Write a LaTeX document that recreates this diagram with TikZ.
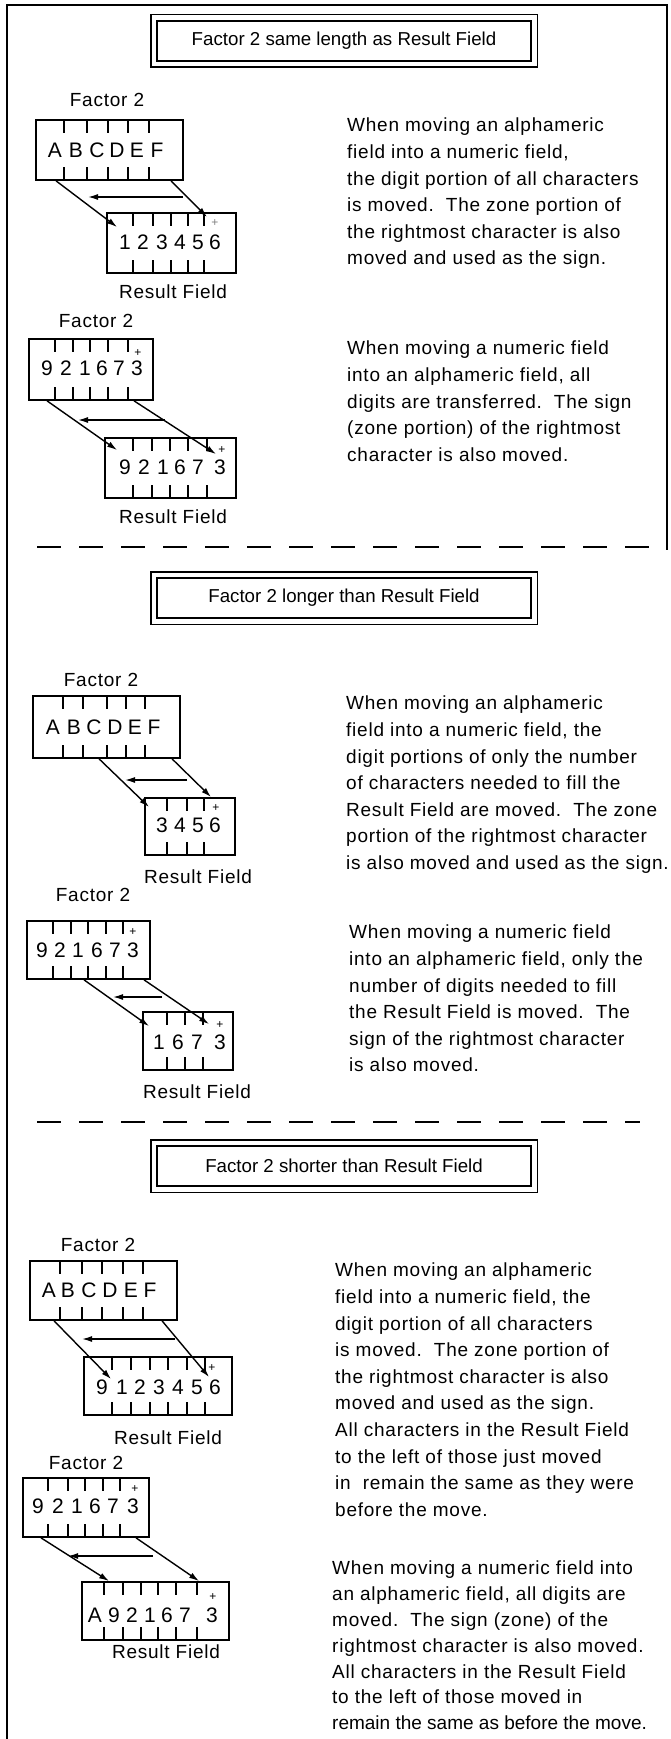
\documentclass[tikz,border=0pt]{standalone}
\usepackage{fontspec}
\setmainfont{Liberation Sans}[LetterSpace=4]
\newfontfamily\titlefont{Liberation Sans}
\usetikzlibrary{arrows.meta}

\begin{document}
\begin{tikzpicture}[x=1pt,y=-1pt,
  fieldbox/.style={draw,line width=1.8pt,inner sep=0pt},
  cell/.style={inner sep=0pt,font=\fontsize{21}{21}\selectfont},
  sgn/.style={inner sep=0pt,font=\fontsize{12}{12}\selectfont},
  lbl/.style={inner sep=0pt,font=\fontsize{19}{19}\selectfont},
  note/.style={inner sep=0pt,anchor=north west,align=left,font=\fontsize{19}{26.6}\selectfont},
  titlebox/.style={draw,line width=2.2pt,minimum width=374pt,minimum height=40pt,inner sep=0pt,
    font=\titlefont\fontsize{18.7}{18.7}\selectfont},
  rim/.style={line width=1.2pt},
  tick/.style={line width=1.4pt},
  sep/.style={line width=1.3pt,dash pattern=on 24pt off 18pt},
  move/.style={line width=1.4pt,-{Latex[length=10pt,width=6pt]}}]
\useasboundingbox (0,0) rectangle (671,1739);
\draw[line width=1.5pt] (7,1739) -- (7,5) -- (667,5) -- (667,550);

% Factor 2 same length as Result Field
\node[titlebox] (t1) at (344,41) {Factor 2 same length as Result Field};
\draw[rim] ([shift={(-5pt,5pt)}]t1.north west) rectangle ([shift={(5pt,-5pt)}]t1.south east);

\node[lbl] (l1) at (107,100) {Factor 2};
\node[fieldbox,minimum width=147pt,minimum height=60pt] (f1) at (109.5,150) {};
\foreach \x in {64,87,108,128,149} \draw[tick] (\x,120) -- ++(0,13) (\x,180) -- ++(0,-13);
\foreach \c/\x [count=\i] in {A/55,B/76,C/97,D/117,E/137,F/157} \node[cell] (f1c\i) at (\x,150) {\c};
\node[fieldbox,minimum width=129pt,minimum height=60pt] (r1) at (171.5,243) {};
\foreach \x in {133,153,171,188,204} \draw[tick] (\x,213) -- ++(0,13) (\x,273) -- ++(0,-13);
\foreach \c/\x [count=\i] in {1/125,2/143,3/162,4/180,5/198,6/215} \node[cell] (r1c\i) at (\x,242) {\c};
\node[sgn,gray] (r1p) at (215,223) {+};
\node[lbl] (m1) at (173,292) {Result Field};
\draw[move] ([xshift=21pt]f1.south west) -- ([shift={(11pt,-15pt)}]r1.north west);
\draw[move] ([xshift=136pt]f1.south west) -- ([shift={(101pt,-5pt)}]r1.north west);
\draw[move] (183,197) -- (88,197);
\node[note] (n1) at (347,118) {When moving an alphameric\\
field into a numeric field,\\
the digit portion of all characters\\
is moved.\ \ The zone portion of\\
the rightmost character is also\\
moved and used as the sign.};

\node[lbl] (l2) at (96,321) {Factor 2};
\node[fieldbox,minimum width=124pt,minimum height=61pt] (f2) at (91,369.5) {};
\foreach \x in {55,73,90,108,128} \draw[tick] (\x,339) -- ++(0,13) (\x,400) -- ++(0,-13);
\foreach \c/\x [count=\i] in {9/47,2/66,1/85,6/102,7/119,3/137} \node[cell] (f2c\i) at (\x,368) {\c};
\node[sgn] (f2p) at (138,353) {+};
\node[fieldbox,minimum width=131pt,minimum height=60pt] (r2) at (170.5,468) {};
\foreach \x in {133,152,170,188,207} \draw[tick] (\x,438) -- ++(0,13) (\x,498) -- ++(0,-13);
\foreach \c/\x [count=\i] in {9/125,2/144,1/163,6/180,7/198,3/220} \node[cell] (r2c\i) at (\x,467) {\c};
\node[sgn] (r2p) at (222,450) {+};
\node[lbl] (m2) at (173,517) {Result Field};
\draw[move] ([xshift=19pt]f2.south west) -- ([shift={(13pt,-13pt)}]r2.north west);
\draw[move] ([xshift=106pt]f2.south west) -- ([shift={(112pt,-17pt)}]r2.north west);
\draw[move] (165,420) -- (78,420);
\node[note] (n2) at (347,341) {When moving a numeric field\\
into an alphameric field, all\\
digits are transferred.\ \ The sign\\
(zone portion) of the rightmost\\
character is also moved.};

\draw[sep] (37,547) -- (649,547);

% Factor 2 longer than Result Field
\node[titlebox] (t2) at (344,598) {Factor 2 longer than Result Field};
\draw[rim] ([shift={(-5pt,5pt)}]t2.north west) rectangle ([shift={(5pt,-5pt)}]t2.south east);

\node[lbl] (l3) at (101,680) {Factor 2};
\node[fieldbox,minimum width=147pt,minimum height=62pt] (f3) at (106.5,727) {};
\foreach \x in {63,83,107,126,145} \draw[tick] (\x,696) -- ++(0,13) (\x,758) -- ++(0,-13);
\foreach \c/\x [count=\i] in {A/53,B/74,C/94,D/115,E/135,F/154} \node[cell] (f3c\i) at (\x,727) {\c};
\node[fieldbox,minimum width=90pt,minimum height=57pt] (r3) at (190,826.5) {};
\foreach \x in {167,187,204} \draw[tick] (\x,798) -- ++(0,13) (\x,855) -- ++(0,-13);
\foreach \c/\x [count=\i] in {3/162,4/180,5/198,6/215} \node[cell] (r3c\i) at (\x,825) {\c};
\node[sgn] (r3p) at (216,808) {+};
\node[lbl] (m3) at (198,877) {Result Field};
\draw[move] ([xshift=67pt]f3.south west) -- ([shift={(5pt,-10pt)}]r3.north west);
\draw[move] ([xshift=140pt]f3.south west) -- ([shift={(67pt,0pt)}]r3.north west);
\draw[move] (187,780) -- (125,780);
\node[note] (n3) at (346,696) {When moving an alphameric\\
field into a numeric field, the\\
digit portions of only the number\\
of characters needed to fill the\\
Result Field are moved.\ \ The zone\\
portion of the rightmost character\\
is also moved and used as the sign.};

\node[lbl] (l4) at (93,895) {Factor 2};
\node[fieldbox,minimum width=123pt,minimum height=58pt] (f4) at (88.5,950) {};
\foreach \x in {53,71,88,106,123} \draw[tick] (\x,921) -- ++(0,13) (\x,979) -- ++(0,-13);
\foreach \c/\x [count=\i] in {9/42,2/60,1/78,6/97,7/115,3/133} \node[cell] (f4c\i) at (\x,950) {\c};
\node[sgn] (f4p) at (133,932) {+};
\node[fieldbox,minimum width=90pt,minimum height=58pt] (r4) at (188,1041) {};
\foreach \x in {167,185,203} \draw[tick] (\x,1012) -- ++(0,13) (\x,1070) -- ++(0,-13);
\foreach \c/\x [count=\i] in {1/159,6/178,7/197,3/220} \node[cell] (r4c\i) at (\x,1042) {\c};
\node[sgn] (r4p) at (220,1025) {+};
\node[lbl] (m4) at (197,1092) {Result Field};
\draw[move] ([xshift=58pt]f4.south west) -- ([shift={(7pt,-15pt)}]r4.north west);
\draw[move] ([xshift=118pt]f4.south west) -- ([shift={(67pt,-13pt)}]r4.north west);
\draw[move] (162,997) -- (113,997);
\node[note] (n4) at (349,925) {When moving a numeric field\\
into an alphameric field, only the\\
number of digits needed to fill\\
the Result Field is moved.\ \ The\\
sign of the rightmost character\\
is also moved.};

\draw[sep] (37,1122) -- (640,1122);

% Factor 2 shorter than Result Field
\node[titlebox] (t3) at (344,1166) {Factor 2 shorter than Result Field};
\draw[rim] ([shift={(-5pt,5pt)}]t3.north west) rectangle ([shift={(5pt,-5pt)}]t3.south east);

\node[lbl] (l5) at (98,1245) {Factor 2};
\node[fieldbox,minimum width=147pt,minimum height=59pt] (f5) at (103.5,1290.5) {};
\foreach \x in {60,82,102,123,143} \draw[tick] (\x,1261) -- ++(0,13) (\x,1320) -- ++(0,-13);
\foreach \c/\x [count=\i] in {A/49,B/68,C/89,D/110,E/131,F/150} \node[cell] (f5c\i) at (\x,1290) {\c};
\node[fieldbox,minimum width=148pt,minimum height=58pt] (r5) at (158,1386) {};
\foreach \x in {112,131,150,168,187,205} \draw[tick] (\x,1357) -- ++(0,13) (\x,1415) -- ++(0,-13);
\foreach \c/\x [count=\i] in {9/102,1/122,2/140,3/159,4/178,5/197,6/215} \node[cell] (r5c\i) at (\x,1387) {\c};
\node[sgn] (r5p) at (212,1368) {+};
\node[lbl] (m5) at (168,1438) {Result Field};
\draw[move] ([xshift=25pt]f5.south west) -- ([shift={(28pt,-23pt)}]r5.north west);
\draw[move] ([xshift=133pt]f5.south west) -- ([shift={(126pt,-21pt)}]r5.north west);
\draw[move] (175,1339) -- (82,1339);
\node[note] (n5) at (335,1263) {When moving an alphameric\\
field into a numeric field, the\\
digit portion of all characters\\
is moved.\ \ The zone portion of\\
the rightmost character is also\\
moved and used as the sign.\\
All characters in the Result Field\\
to the left of those just moved\\
in\ \ remain the same as they were\\
before the move.};

\node[lbl] (l6) at (86,1463) {Factor 2};
\node[fieldbox,minimum width=126pt,minimum height=59pt] (f6) at (86,1507.5) {};
\foreach \x in {48,68,85,103,120} \draw[tick] (\x,1478) -- ++(0,13) (\x,1537) -- ++(0,-13);
\foreach \c/\x [count=\i] in {9/38,2/58,1/77,6/95,7/113,3/133} \node[cell] (f6c\i) at (\x,1506) {\c};
\node[sgn] (f6p) at (135,1489) {+};
\node[fieldbox,minimum width=147pt,minimum height=58pt] (r6) at (155.5,1611) {};
\foreach \x in {104,123,141,158,176,197} \draw[tick] (\x,1582) -- ++(0,13) (\x,1640) -- ++(0,-13);
\foreach \c/\x [count=\i] in {A/95,9/114,2/132,1/150,6/167,7/185,3/212} \node[cell] (r6c\i) at (\x,1615) {\c};
\node[sgn] (r6p) at (213,1597) {+};
\node[lbl] (m6) at (166,1652) {Result Field};
\draw[move] ([xshift=19pt]f6.south west) -- ([xshift=28pt]r6.north west);
\draw[move] ([xshift=114pt]f6.south west) -- ([xshift=118pt]r6.north west);
\draw[move] (153,1556) -- (68,1556);
\node[note,font=\fontsize{19}{25.8}\selectfont] (n6) at (332,1561) {When moving a numeric field into\\
an alphameric field, all digits are\\
moved.\ \ The sign (zone) of the\\
rightmost character is also moved.\\
All characters in the Result Field\\
to the left of those moved in\\
{\addfontfeature{LetterSpace=0}remain the same as before the move.}};
\end{tikzpicture}
\end{document}
